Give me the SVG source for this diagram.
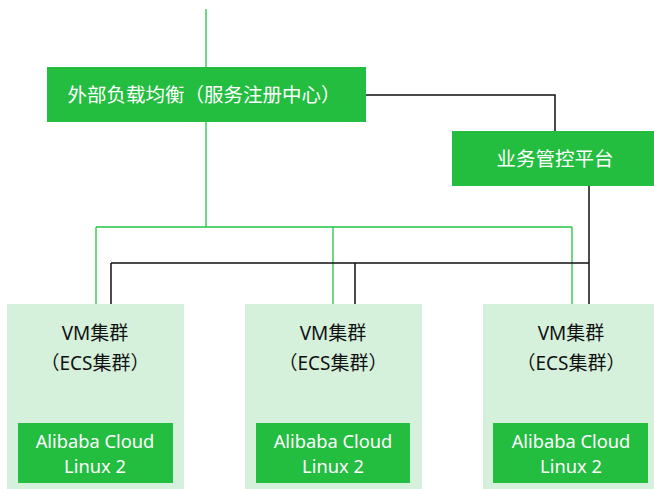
<svg xmlns="http://www.w3.org/2000/svg" width="654" height="489" viewBox="0 0 654 489">
<style>
.g{fill:#23bd3f}
.c{fill:#d5f0db}
.gl{stroke:#25c444;stroke-width:1.3;fill:none}
.bl{stroke:#111;stroke-width:1.5;fill:none}
.t{font-family:"Noto Sans","Noto Sans CJK SC",sans-serif;font-size:19px;text-anchor:middle;dominant-baseline:central}
.z{font-size:19.5px}
.a{font-size:18.3px}
.w{fill:#fff}
.k{fill:#111}
</style>
<g id="connectors">
<path class="gl" d="M206 9V67M206 122V227M96 227H572M96 227V304M333 227V304M572 227V304"/>
<path class="bl" d="M366 95H555V131M589 186V304M111 263H589M111 263V304M355 263V304"/>
</g>
<g id="lb"><rect class="g" x="47" y="67" width="319" height="55"/><text class="t z w" x="204" y="94">外部负载均衡（服务注册中心）</text></g>
<g id="platform"><rect class="g" x="452" y="131" width="202" height="55"/><text class="t z w" x="555" y="158">业务管控平台</text></g>
<g id="vm1"><rect class="c" x="7" y="304" width="177" height="185"/><text class="t k" x="95" y="333">VM集群</text><text class="t k" x="95" y="363">（ECS集群）</text>
<rect class="g" x="18" y="423" width="155" height="60"/><text class="t a w" x="95" y="440">Alibaba Cloud</text><text class="t a w" x="95" y="465">Linux 2</text></g>
<g id="vm2"><rect class="c" x="245" y="304" width="177" height="185"/><text class="t k" x="333" y="333">VM集群</text><text class="t k" x="333" y="363">（ECS集群）</text>
<rect class="g" x="256" y="423" width="154" height="60"/><text class="t a w" x="333" y="440">Alibaba Cloud</text><text class="t a w" x="333" y="465">Linux 2</text></g>
<g id="vm3"><rect class="c" x="483" y="304" width="177" height="185"/><text class="t k" x="571" y="333">VM集群</text><text class="t k" x="571" y="363">（ECS集群）</text>
<rect class="g" x="493" y="423" width="155" height="60"/><text class="t a w" x="571" y="440">Alibaba Cloud</text><text class="t a w" x="571" y="465">Linux 2</text></g>
</svg>
